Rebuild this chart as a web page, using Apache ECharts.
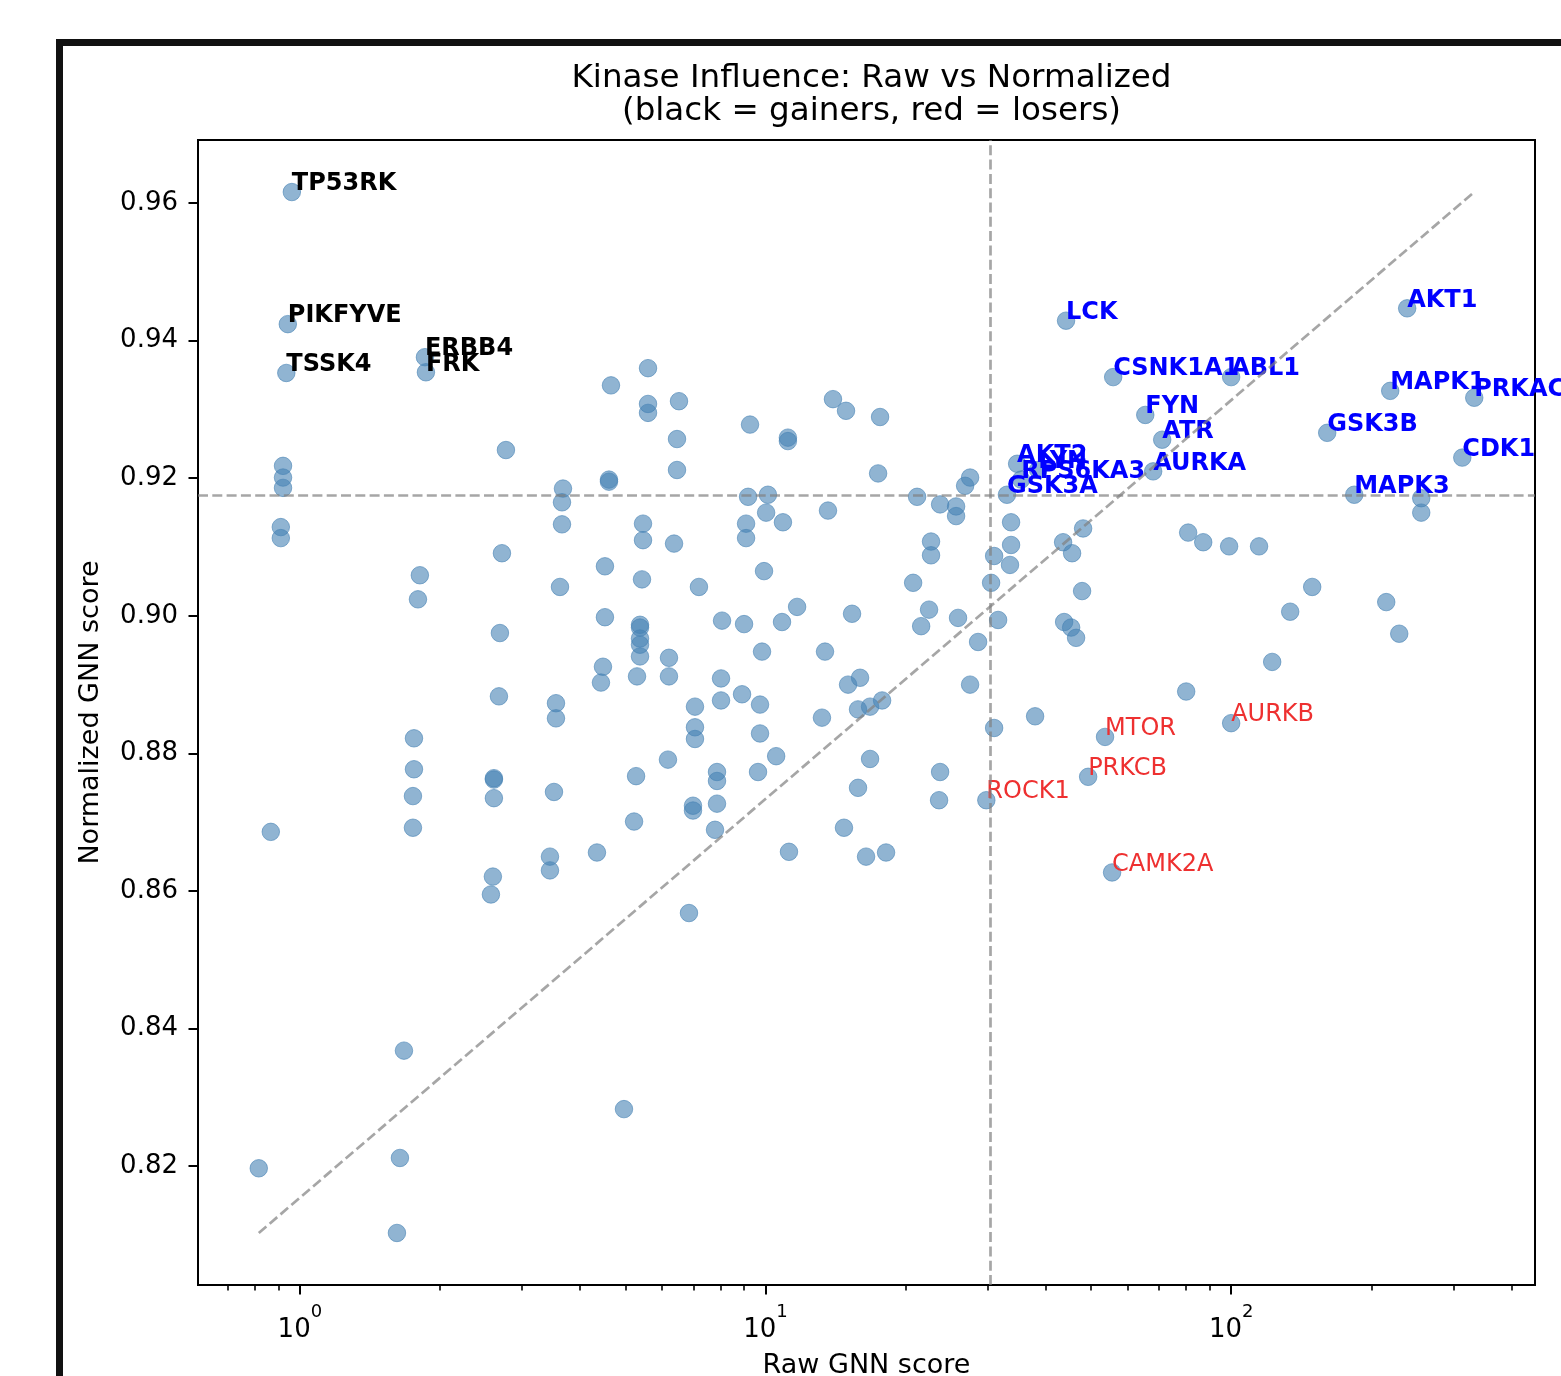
<!DOCTYPE html>
<html>
<head>
<meta charset="utf-8">
<script src="https://cdn.jsdelivr.net/npm/echarts@6/dist/echarts.min.js"></script>
<style>
html,body{margin:0;padding:0;background:#fff;}
#chart{width:1561px;height:1376px;}
</style>
</head>
<body>
<div id="chart"></div>
<script>
// ---- data ----
const gainerNames = ['TP53RK','PIKFYVE','TSSK4','ERBB4','FRK'];
const gainerRaw   = [0.961, 0.942, 0.935, 1.856, 1.865];
const gainerNorm  = [0.9616, 0.9424, 0.9353, 0.9376, 0.9354];

const topNames = ['LCK','CSNK1A1','ABL1','FYN','ATR','AURKA','AKT2','LYN','RPS6KA3','GSK3A','AKT1','MAPK1','PRKACA','GSK3B','CDK1','MAPK3'];
const topRaw   = [44.2, 55.8, 100.0, 65.4, 71.1, 68.0, 34.7, 38.5, 35.4, 33.0, 238.8, 219.6, 332.7, 160.8, 313.6, 183.8];
const topNorm  = [0.9429, 0.9347, 0.9347, 0.9292, 0.9256, 0.9210, 0.9221, 0.9212, 0.9198, 0.9176, 0.9447, 0.9327, 0.9317, 0.9266, 0.9230, 0.9176];

const loserNames = ['MTOR','AURKB','PRKCB','ROCK1','CAMK2A'];
const loserRaw   = [53.6, 100.0, 49.3, 29.8, 55.5];
const loserNorm  = [0.8824, 0.8844, 0.8766, 0.8732, 0.8627];

const otherRaw = [
  0.816, 0.866, 0.920, 0.920, 0.920, 0.910, 0.910,
  1.673, 1.640, 1.616, 1.810, 1.793, 1.758, 1.758, 1.749, 1.749,
  2.572, 2.597, 2.610, 2.610, 2.610, 2.676, 2.689, 2.716, 2.770,
  3.444, 3.444, 3.513, 3.548, 3.548, 3.619, 3.655, 3.655, 3.673,
  4.345, 4.432, 4.476, 4.520, 4.520, 4.611, 4.611, 4.657, 4.966,
  5.220, 5.272, 5.297, 5.376, 5.376, 5.376, 5.376, 5.376, 5.429, 5.456, 5.456, 5.593, 5.593, 5.593,
  6.173, 6.204, 6.204, 6.361, 6.455, 6.455, 6.519,
  6.849, 6.986, 6.986, 7.055, 7.055, 7.055, 7.195,
  7.790, 7.867, 7.867, 7.867, 8.025, 8.025, 8.065,
  8.904, 8.993, 9.083, 9.083, 9.173, 9.262,
  9.636, 9.732, 9.732, 9.829, 9.926, 10.03, 10.12,
  10.54, 10.85, 10.90, 11.17, 11.17, 11.23, 11.69,
  13.22, 13.42, 13.62, 13.96, 14.74, 14.89, 15.04, 15.34, 15.80, 15.80, 15.96,
  16.44, 16.77, 16.77, 17.45, 17.62, 17.80, 18.15,
  20.75, 21.16, 21.59, 22.45, 22.67, 22.67, 23.59, 23.71, 23.71,
  25.66, 25.66, 25.91, 26.83, 27.50, 27.50, 28.61,
  30.51, 30.97, 30.97, 31.59, 33.50, 33.68, 33.68,
  37.93, 43.56, 43.78, 45.33, 45.54, 46.45, 47.85, 48.09,
  80.06, 80.85, 87.1, 99.0, 114.8, 122.5, 133.9, 149.3, 215.3, 229.6, 256.0, 256.0
];
const otherNorm = [
  0.8197, 0.8686, 0.9218, 0.9201, 0.9186, 0.9129, 0.9113,
  0.8368, 0.8212, 0.8103, 0.9059, 0.9024, 0.8822, 0.8777, 0.8738, 0.8692,
  0.8595, 0.8621, 0.8764, 0.8762, 0.8735, 0.8883, 0.8975, 0.9091, 0.9241,
  0.8650, 0.8630, 0.8744, 0.8873, 0.8851, 0.9042, 0.9133, 0.9165, 0.9185,
  0.8656, 0.8903, 0.8926, 0.9072, 0.8998, 0.9198, 0.9195, 0.9335, 0.8283,
  0.8701, 0.8767, 0.8912, 0.8987, 0.8983, 0.8967, 0.8958, 0.8941, 0.9053, 0.9134, 0.9110, 0.9360, 0.9308, 0.9295,
  0.8791, 0.8939, 0.8912, 0.9105, 0.9257, 0.9212, 0.9312,
  0.8568, 0.8724, 0.8717, 0.8868, 0.8838, 0.8821, 0.9042,
  0.8689, 0.8727, 0.8773, 0.8760, 0.8909, 0.8877, 0.8993,
  0.8886, 0.8988, 0.9134, 0.9113, 0.9173, 0.9278,
  0.8773, 0.8871, 0.8829, 0.8948, 0.9065, 0.9150, 0.9176,
  0.8796, 0.8991, 0.9136, 0.9259, 0.9254, 0.8657, 0.9013,
  0.8852, 0.8948, 0.9153, 0.9315, 0.8692, 0.9298, 0.8900, 0.9003, 0.8750, 0.8864, 0.8910,
  0.8650, 0.8868, 0.8792, 0.9207, 0.9289, 0.8877, 0.8656,
  0.9048, 0.9173, 0.8985, 0.9009, 0.9108, 0.9088, 0.8732, 0.8773, 0.9162,
  0.9159, 0.9145, 0.8997, 0.9189, 0.9201, 0.8900, 0.8962,
  0.9048, 0.8837, 0.9087, 0.8994, 0.9074, 0.9103, 0.9136,
  0.8854, 0.9107, 0.8991, 0.8983, 0.9091, 0.8968, 0.9036, 0.9127,
  0.8890, 0.9121, 0.9107, 0.9101, 0.9101, 0.8933, 0.9006, 0.9042, 0.9020, 0.8974, 0.9171, 0.9150
];

const rawThreshold = 30.4;
const normThreshold = 0.9175;

const xMajorTicks = [1, 10, 100];
const xMinorTicks = [0.7, 0.8, 0.9, 2, 3, 4, 5, 6, 7, 8, 9, 20, 30, 40, 50, 60, 70, 80, 90, 200, 300, 400];
const yTicks = [0.82, 0.84, 0.86, 0.88, 0.90, 0.92, 0.94, 0.96];

// ---- build ----
const FONT = 'DejaVu Sans';
const allRaw = [].concat(gainerRaw, topRaw, loserRaw, otherRaw);
const allNorm = [].concat(gainerNorm, topNorm, loserNorm, otherNorm);
const rMin = Math.min(...allRaw), rMax = Math.max(...allRaw);
const nMin = Math.min(...allNorm), nMax = Math.max(...allNorm);
const lMin = Math.log10(rMin), lMax = Math.log10(rMax);
const lPad = 0.05 * (lMax - lMin);
const X_MIN = Math.pow(10, lMin - lPad), X_MAX = Math.pow(10, lMax + lPad);
const nPad = 0.05 * (nMax - nMin);
const Y_MIN = nMin - nPad, Y_MAX = nMax + nPad;

function labelled(names, raw, norm, color, weight) {
  return names.map((n, i) => ({
    value: [raw[i], norm[i]],
    label: {
      show: true, formatter: n, color: color, fontWeight: weight,
      fontSize: 24, fontFamily: FONT, lineHeight: 24,
      position: ['50%', '50%'], align: 'left', verticalAlign: 'bottom', offset: [0, 4]
    }
  }));
}
const scatterData = otherRaw.map((r, i) => ({ value: [r, otherNorm[i]] }))
  .concat(labelled(gainerNames, gainerRaw, gainerNorm, '#000', 'bold'))
  .concat(labelled(topNames, topRaw, topNorm, '#0000ff', 'bold'))
  .concat(labelled(loserNames, loserRaw, loserNorm, '#ee3030', 'normal'));

const dashStyle = { color: 'rgba(128,128,128,0.7)', width: 2.7, type: [10, 4.3] };

const chart = echarts.init(document.getElementById('chart'), null, { renderer: 'canvas' });
chart.setOption({
  animation: false,
  backgroundColor: '#fff',
  textStyle: { fontFamily: FONT },
  title: {
    text: 'Kinase Influence: Raw vs Normalized\n(black = gainers, red = losers)',
    left: 866.5, top: 57, textAlign: 'center',
    textStyle: { fontFamily: FONT, fontSize: 32.6, fontWeight: 'normal', color: '#000', lineHeight: 33 }
  },
  graphic: [
    { type: 'rect', shape: { x: 56, y: 39, width: 1600, height: 7 }, style: { fill: '#111' }, silent: true },
    { type: 'rect', shape: { x: 56, y: 39, width: 7, height: 1400 }, style: { fill: '#111' }, silent: true }
  ],
  grid: { left: 198, top: 140, right: 26, bottom: 91, show: true, borderColor: '#000', borderWidth: 2,
    backgroundColor: 'transparent', containLabel: false, outerBoundsMode: 'none' },
  xAxis: [{
    type: 'log', logBase: 10, min: X_MIN, max: X_MAX,
    name: 'Raw GNN score', nameLocation: 'middle', nameGap: 67,
    nameTextStyle: { fontFamily: FONT, fontSize: 27, color: '#000' },
    axisLine: { show: true, onZero: false, lineStyle: { color: '#000', width: 2 } },
    axisTick: { show: true, length: 9.5, customValues: xMajorTicks, lineStyle: { color: '#000', width: 2 } },
    axisLabel: { fontFamily: FONT, color: '#000', margin: 12, customValues: xMajorTicks,
      formatter: v => '{b|10}{s|' + Math.round(Math.log10(v)) + '}',
      rich: {
        b: { fontFamily: FONT, fontSize: 26, color: '#000', lineHeight: 46, verticalAlign: 'bottom' },
        s: { fontFamily: FONT, fontSize: 18, color: '#000', lineHeight: 46, verticalAlign: 'top', padding: [6, 0, 0, 0] }
      } },
    splitLine: { show: false }
  }, {
    type: 'log', logBase: 10, min: X_MIN, max: X_MAX, position: 'bottom',
    axisLine: { show: false },
    axisTick: { show: true, length: 5.4, customValues: xMinorTicks, lineStyle: { color: '#000', width: 1.6 } },
    axisLabel: { show: false },
    splitLine: { show: false }
  }],
  yAxis: {
    type: 'value', min: Y_MIN, max: Y_MAX,
    name: 'Normalized GNN score', nameLocation: 'middle', nameGap: 94,
    nameTextStyle: { fontFamily: FONT, fontSize: 27, color: '#000' },
    axisLine: { show: true, onZero: false, lineStyle: { color: '#000', width: 2 } },
    axisTick: { show: true, length: 9.5, customValues: yTicks, lineStyle: { color: '#000', width: 2 } },
    axisLabel: { fontFamily: FONT, fontSize: 26, color: '#000', margin: 20, customValues: yTicks,
      formatter: v => v.toFixed(2) },
    splitLine: { show: false }
  },
  series: [{
    type: 'scatter',
    xAxisIndex: 0,
    symbol: 'circle', symbolSize: 17.5,
    itemStyle: { color: 'rgba(70,130,180,0.6)', borderColor: 'rgba(70,130,180,0.6)', borderWidth: 1, opacity: 1 },
    emphasis: { disabled: true },
    data: scatterData,
    z: 2,
    markLine: {
      silent: true, symbol: 'none', label: { show: false }, precision: 6,
      lineStyle: dashStyle,
      data: [{ xAxis: rawThreshold }, { yAxis: normThreshold }]
    }
  }, {
    type: 'line',
    xAxisIndex: 0,
    data: [[rMin, nMin], [rMax, nMax]],
    symbol: 'none',
    lineStyle: dashStyle,
    z: 3
  }]
});
</script>
</body>
</html>
